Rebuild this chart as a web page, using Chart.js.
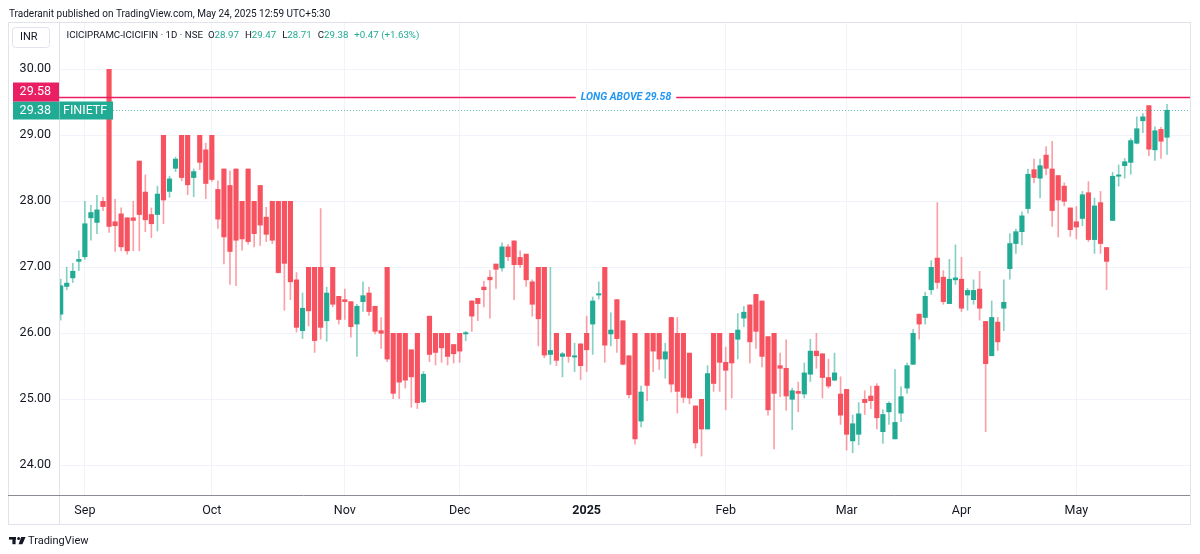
<!DOCTYPE html>
<html>
<head>
<meta charset="utf-8">
<script src="https://cdn.jsdelivr.net/npm/chart.js@4.4.1/dist/chart.umd.min.js"></script>
<style>
html, body { margin: 0; padding: 0; background: #fff; }
canvas { display: block; }
</style>
</head>
<body>
<canvas id="c" width="1200" height="554"></canvas>
<script>
// daily candles, 27 Aug 2024 .. 23 May 2025
const opens = [
  26.29, 26.71, 26.84, 27.09, 27.16, 27.75, 27.68, 28.00, 30.00, 27.69,
  27.81, 27.75, 27.75, 28.61, 28.14, 27.80, 27.80, 29.00, 28.15, 28.50,
  29.00, 29.00, 28.36, 29.00, 28.78, 29.00, 28.18, 28.49, 28.24, 28.49,
  28.00, 28.49, 28.00, 28.24, 27.76, 28.00, 28.00, 28.00, 28.00, 26.81,
  26.04, 27.00, 27.00, 27.00, 26.19, 27.00, 26.56, 26.51, 26.48, 26.14,
  26.48, 26.61, 26.41, 26.04, 27.00, 26.00, 26.00, 26.00, 25.75, 26.00,
  24.96, 26.26, 26.00, 26.00, 26.00, 25.83, 26.00, 25.99, 26.49, 26.53,
  26.70, 26.85, 27.05, 26.99, 27.31, 27.40, 27.15, 27.20, 26.78, 27.00,
  27.00, 25.68, 26.00, 25.65, 26.00, 25.64, 25.84, 26.00, 26.14, 26.58,
  27.00, 25.99, 26.51, 26.19, 25.66, 26.00, 24.67, 26.00, 26.00, 26.00,
  25.61, 26.24, 26.00, 26.00, 25.70, 24.90, 25.00, 24.55, 26.00, 26.00,
  25.56, 26.00, 25.91, 26.23, 26.43, 26.59, 26.49, 25.95, 26.00, 25.51,
  25.47, 25.00, 25.12, 25.08, 25.38, 25.73, 25.69, 25.33, 25.29, 25.08,
  25.15, 24.37, 24.47, 25.00, 25.05, 25.20, 24.51, 24.81, 24.40, 24.79,
  25.17, 25.53, 26.29, 26.24, 26.66, 27.14, 26.85, 26.45, 26.81, 26.82,
  26.58, 26.51, 26.67, 26.18, 25.66, 26.17, 26.38, 26.98, 27.36, 27.54,
  27.89, 28.48, 28.35, 28.70, 28.49, 28.39, 28.23, 27.90, 27.69, 27.74,
  28.13, 27.42, 27.98, 27.30, 27.71, 28.38, 28.54, 28.59, 28.88, 29.22,
  29.45, 28.78, 29.09, 28.97
];
const highs = [
  26.82, 27.00, 27.06, 27.25, 28.00, 27.94, 28.09, 28.06, 30.00, 28.03,
  27.90, 27.75, 28.00, 28.61, 28.40, 27.90, 28.23, 29.00, 28.38, 28.67,
  29.00, 29.00, 28.49, 29.00, 28.88, 29.00, 28.31, 28.49, 28.46, 28.49,
  28.00, 28.49, 28.00, 28.24, 27.91, 28.00, 28.00, 28.00, 28.00, 26.92,
  26.61, 27.00, 27.00, 27.89, 26.70, 27.00, 26.56, 26.67, 26.48, 26.44,
  26.78, 26.70, 26.41, 26.24, 27.00, 26.00, 26.00, 26.00, 25.75, 26.00,
  25.42, 26.26, 26.00, 26.00, 26.00, 25.83, 26.00, 26.03, 26.49, 26.53,
  26.79, 26.95, 27.05, 27.37, 27.35, 27.40, 27.25, 27.20, 26.81, 27.00,
  27.00, 27.00, 26.00, 25.71, 26.00, 25.85, 25.84, 26.26, 26.55, 26.78,
  27.00, 26.31, 26.51, 26.19, 25.66, 26.00, 25.20, 26.00, 26.00, 26.00,
  25.85, 26.24, 26.24, 26.00, 25.70, 24.90, 25.00, 25.51, 26.00, 26.00,
  25.79, 26.00, 26.30, 26.41, 26.43, 26.59, 26.49, 25.95, 26.00, 25.70,
  25.90, 25.17, 25.26, 25.55, 25.91, 26.00, 25.69, 25.61, 25.70, 25.34,
  25.15, 24.76, 24.95, 25.13, 25.20, 25.24, 24.84, 24.96, 25.45, 25.19,
  25.55, 26.06, 26.29, 26.62, 27.10, 27.98, 26.95, 27.12, 27.34, 27.15,
  26.68, 26.81, 26.94, 26.18, 26.49, 26.24, 26.81, 27.51, 27.58, 27.84,
  28.49, 28.64, 28.64, 28.83, 28.91, 28.39, 28.28, 27.90, 27.92, 28.15,
  28.30, 28.05, 28.15, 27.30, 28.44, 28.55, 28.65, 28.95, 29.28, 29.33,
  29.45, 29.13, 29.12, 29.47
];
const lows = [
  26.20, 26.66, 26.77, 26.95, 27.12, 27.41, 27.51, 27.86, 27.53, 27.24,
  27.25, 27.20, 27.25, 27.25, 27.54, 27.45, 27.55, 27.66, 28.06, 28.45,
  28.31, 28.10, 28.07, 28.48, 28.04, 28.30, 27.59, 27.05, 26.74, 26.72,
  27.26, 27.35, 27.31, 27.33, 27.39, 27.36, 26.91, 26.35, 26.51, 26.02,
  25.92, 26.11, 25.71, 25.91, 25.88, 26.40, 26.14, 26.21, 25.94, 25.65,
  26.33, 26.27, 25.99, 25.77, 25.57, 25.01, 25.01, 25.17, 24.88, 24.86,
  24.95, 25.57, 25.52, 25.56, 25.52, 25.55, 25.56, 25.89, 26.03, 26.19,
  26.40, 26.23, 26.68, 26.94, 27.10, 26.51, 27.00, 26.71, 26.26, 25.81,
  25.63, 25.53, 25.51, 25.34, 25.56, 25.42, 25.30, 25.42, 25.68, 26.52,
  25.56, 25.81, 25.71, 25.52, 25.02, 24.32, 24.58, 24.98, 25.42, 25.45,
  25.32, 25.11, 24.79, 24.95, 24.93, 24.26, 24.14, 24.55, 25.12, 25.12,
  24.84, 25.02, 25.61, 26.10, 25.55, 25.77, 25.49, 24.76, 24.25, 25.04,
  24.83, 24.54, 24.81, 25.02, 25.27, 25.47, 25.02, 25.17, 25.28, 24.62,
  24.23, 24.19, 24.31, 24.77, 24.86, 24.55, 24.33, 24.62, 24.40, 24.66,
  25.09, 25.53, 25.91, 26.14, 26.59, 26.68, 26.44, 26.45, 26.74, 26.33,
  26.35, 26.44, 26.20, 24.51, 25.66, 25.74, 26.04, 26.82, 27.21, 27.34,
  27.82, 28.28, 28.05, 28.40, 27.62, 27.46, 27.93, 27.47, 27.43, 27.63,
  27.39, 27.21, 27.21, 26.66, 27.71, 28.23, 28.35, 28.41, 28.87, 29.04,
  28.69, 28.62, 28.65, 28.71
];
const closes = [
  26.72, 26.76, 26.94, 27.12, 27.66, 27.83, 27.87, 27.92, 27.62, 27.63,
  27.31, 27.25, 27.71, 27.80, 27.72, 27.66, 28.11, 28.02, 28.34, 28.64,
  28.36, 28.25, 28.45, 28.59, 28.27, 28.33, 27.73, 27.46, 27.24, 27.41,
  27.43, 27.39, 27.51, 27.64, 27.50, 27.41, 26.92, 27.06, 26.78, 26.09,
  26.38, 26.34, 25.89, 26.09, 26.61, 26.44, 26.21, 26.48, 26.10, 26.41,
  26.57, 26.33, 26.03, 26.00, 25.61, 25.09, 25.26, 25.29, 25.34, 24.95,
  25.38, 25.68, 25.71, 25.78, 25.65, 25.69, 25.73, 26.01, 26.26, 26.45,
  26.66, 26.81, 26.97, 27.31, 27.16, 27.04, 27.04, 26.81, 26.44, 26.22,
  25.67, 25.74, 25.59, 25.69, 25.65, 25.66, 25.51, 25.75, 26.49, 26.60,
  25.82, 26.05, 25.92, 25.53, 25.07, 24.40, 25.11, 25.21, 25.73, 25.61,
  25.72, 25.23, 25.12, 25.03, 25.02, 24.34, 24.55, 25.39, 25.24, 25.56,
  25.44, 25.55, 26.05, 26.32, 25.87, 26.03, 25.65, 24.84, 25.09, 25.47,
  25.05, 25.13, 25.09, 25.40, 25.73, 25.66, 25.33, 25.20, 25.40, 24.76,
  24.47, 24.63, 24.78, 24.95, 24.98, 24.72, 24.77, 24.94, 24.65, 25.04,
  25.51, 26.00, 26.14, 26.56, 27.00, 26.77, 26.48, 26.82, 26.84, 26.38,
  26.65, 26.65, 26.38, 25.54, 26.24, 25.87, 26.47, 27.36, 27.54, 27.78,
  28.41, 28.36, 28.54, 28.50, 27.86, 28.02, 28.00, 27.57, 27.61, 28.10,
  27.42, 27.93, 27.36, 27.09, 28.38, 28.40, 28.60, 28.92, 29.10, 29.28,
  28.79, 29.07, 28.91, 29.38
];

// first trading day of each month (candle index) and its label
const monthIdx    = [4, 25, 47, 66, 87, 110, 130, 149, 168];
const monthLabels = ['Sep', 'Oct', 'Nov', 'Dec', '2025', 'Feb', 'Mar', 'Apr', 'May'];
const priceTicks  = [24, 25, 26, 27, 28, 29, 30];

const alertLevel = 29.58;
const alertText  = 'LONG ABOVE 29.58';
const symbolName = 'FINIETF';

const UP = '#22ab94', DOWN = '#f7525f';
const UP_WICK = 'rgba(34,171,148,0.55)', DOWN_WICK = 'rgba(247,82,95,0.55)';
const FONT = 'Roboto, "Noto Sans", sans-serif';

const isUp = closes.map((c, i) => c >= opens[i]);

const overlay = {
  id: 'overlay',
  afterDraw(chart) {
    const ctx = chart.ctx;
    const y = chart.scales.y;
    const area = chart.chartArea;
    ctx.save();

    // frame + axis separators
    ctx.strokeStyle = '#e0e3eb';
    ctx.lineWidth = 1;
    ctx.strokeRect(8.5, 22.5, 1182, 502);
    ctx.beginPath();
    ctx.moveTo(area.left + 0.5, 22); ctx.lineTo(area.left + 0.5, 524);
    ctx.stroke();
    ctx.strokeStyle = '#8a8d96';
    ctx.beginPath();
    ctx.moveTo(8, area.bottom + 0.5); ctx.lineTo(1190, area.bottom + 0.5);
    ctx.stroke();

    // header
    ctx.fillStyle = '#131722';
    ctx.textBaseline = 'middle';
    ctx.font = '10px ' + FONT;
    ctx.fillText('Traderanit published on TradingView.com, May 24, 2025 12:59 UTC+5:30', 9, 14);

    // INR box
    ctx.fillStyle = '#fff';
    ctx.strokeStyle = '#e0e3eb';
    ctx.beginPath();
    ctx.roundRect(12.5, 27.5, 37, 20, 3);
    ctx.fill(); ctx.stroke();
    ctx.fillStyle = '#131722';
    ctx.font = '11px ' + FONT;
    ctx.fillText('INR', 20, 37.5);

    // legend line
    const n = closes.length - 1;
    const chg = closes[n] - closes[n - 1];
    const pct = chg / closes[n - 1] * 100;
    const valCol = chg >= 0 ? UP : DOWN;
    const parts = [
      ['ICICIPRAMC-ICICIFIN · 1D · NSE', '#131722', 5],
      ['O', '#131722', 0], [opens[n].toFixed(2), valCol, 6],
      ['H', '#131722', 0], [highs[n].toFixed(2), valCol, 6],
      ['L', '#131722', 0], [lows[n].toFixed(2), valCol, 6],
      ['C', '#131722', 0], [closes[n].toFixed(2), valCol, 6],
      [(chg >= 0 ? '+' : '') + chg.toFixed(2) + ' (' + (pct >= 0 ? '+' : '') + pct.toFixed(2) + '%)', valCol, 0]
    ];
    ctx.font = '9.7px ' + FONT;
    let lx = 66.5;
    parts.forEach(p => {
      ctx.fillStyle = p[1];
      ctx.fillText(p[0], lx, 36);
      lx += ctx.measureText(p[0]).width + p[2];
    });

    // alert line
    const ay = Math.round(y.getPixelForValue(alertLevel)) + 0.5;
    ctx.font = 'italic bold 10.5px ' + FONT;
    const tw = ctx.measureText(alertText).width;
    const cx = 626;
    ctx.strokeStyle = '#e91e63';
    ctx.lineWidth = 1.5;
    ctx.beginPath();
    ctx.moveTo(area.left, ay); ctx.lineTo(cx - tw / 2 - 5, ay);
    ctx.moveTo(cx + tw / 2 + 5, ay); ctx.lineTo(area.right, ay);
    ctx.stroke();
    ctx.fillStyle = '#2196f3';
    ctx.textAlign = 'center';
    ctx.fillText(alertText, cx, ay);

    // last price line
    const py = Math.round(y.getPixelForValue(closes[n])) + 0.5;
    ctx.strokeStyle = 'rgba(34,171,148,0.7)';
    ctx.lineWidth = 1;
    ctx.setLineDash([1, 2]);
    ctx.beginPath();
    ctx.moveTo(113, py); ctx.lineTo(area.right, py);
    ctx.stroke();
    ctx.setLineDash([]);

    // price labels on the axis (the alert label is pushed up above the last price label)
    ctx.font = '12.5px ' + FONT;
    ctx.textAlign = 'right';
    ctx.fillStyle = UP;
    ctx.fillRect(13, py - 9, 100, 18);
    ctx.fillStyle = '#fff';
    ctx.fillText(closes[n].toFixed(2), 51, py);
    ctx.textAlign = 'left';
    ctx.fillText(symbolName, 63, py);
    ctx.strokeStyle = 'rgba(255,255,255,0.35)';
    ctx.beginPath();
    ctx.moveTo(area.left + 0.5, py - 9); ctx.lineTo(area.left + 0.5, py + 9);
    ctx.stroke();
    ctx.fillStyle = '#e91e63';
    ctx.fillRect(13, py - 28, 46, 19);
    ctx.fillStyle = '#fff';
    ctx.textAlign = 'right';
    ctx.fillText(alertLevel.toFixed(2), 51, py - 18.5);

    // TradingView footer
    ctx.textAlign = 'left';
    ctx.fillStyle = '#131722';
    ctx.fillRect(9, 537, 7, 2.6);
    ctx.fillRect(12.4, 537, 3.2, 7.2);
    ctx.beginPath();
    ctx.arc(18.6, 538.5, 1.5, 0, Math.PI * 2);
    ctx.fill();
    ctx.beginPath();
    ctx.moveTo(21.2, 537); ctx.lineTo(25.6, 537); ctx.lineTo(22.4, 544.2); ctx.lineTo(18.6, 544.2);
    ctx.closePath();
    ctx.fill();
    ctx.font = '11px ' + FONT;
    ctx.fillText('TradingView', 28, 541);

    ctx.restore();
  }
};

new Chart(document.getElementById('c'), {
  type: 'bar',
  data: {
    datasets: [
      {
        // bodies (drawn on top)
        data: opens.map((o, i) => ({ x: i, y: [o, closes[i]] })),
        backgroundColor: isUp.map(u => u ? UP : DOWN),
        barThickness: 4.5,
        minBarLength: 1,
        grouped: false
      },
      {
        // wicks
        data: lows.map((l, i) => ({ x: i, y: [l, highs[i]] })),
        backgroundColor: isUp.map(u => u ? UP_WICK : DOWN_WICK),
        barThickness: 1,
        grouped: false
      }
    ]
  },
  options: {
    responsive: false,
    animation: false,
    layout: { padding: { left: 8, top: 22, right: 10, bottom: 30 } },
    plugins: { legend: { display: false }, tooltip: { enabled: false } },
    scales: {
      x: {
        type: 'linear',
        offset: false,
        min: -0.28,
        max: 186.8,
        afterFit: s => { s.height = 29; },
        afterBuildTicks: s => { s.ticks = monthIdx.map(v => ({ value: v })); },
        grid: { color: '#f0f3fa', drawTicks: false, offset: false },
        border: { display: false },
        ticks: {
          autoSkip: false,
          maxRotation: 0,
          padding: 8,
          color: '#131722',
          font: c => ({ family: FONT, size: 12.5, weight: c.tick && c.tick.value === 87 ? 'bold' : 'normal' }),
          callback: v => monthLabels[monthIdx.indexOf(v)]
        }
      },
      y: {
        type: 'linear',
        position: 'left',
        min: 23.55,
        max: 30.717,
        afterFit: s => { s.width = 51; },
        afterBuildTicks: s => { s.ticks = priceTicks.map(v => ({ value: v })); },
        grid: { color: '#f0f3fa', drawTicks: false },
        border: { display: false },
        ticks: {
          padding: 8,
          color: '#131722',
          font: { family: FONT, size: 12.5 },
          callback: v => v.toFixed(2)
        }
      }
    }
  },
  plugins: [overlay]
});
</script>
</body>
</html>
